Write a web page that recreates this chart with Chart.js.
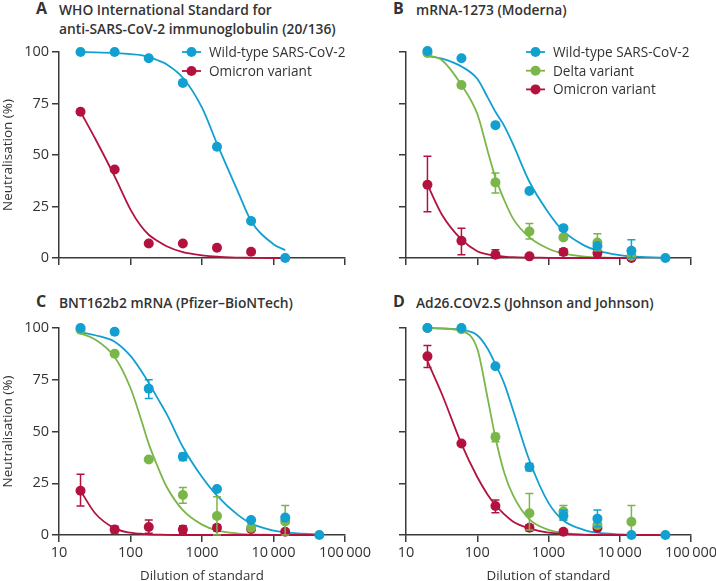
<!DOCTYPE html>
<html>
<head>
<meta charset="utf-8">
<script src="https://cdn.jsdelivr.net/npm/chart.js@4.4.1/dist/chart.umd.min.js"></script>
<style>
  html, body { margin: 0; padding: 0; background: #fff; }
  #wrap { position: relative; width: 716px; height: 581px; overflow: hidden; font-family: 'Open Sans', sans-serif; color: #333; }
  canvas { position: absolute; }
  .title { position: absolute; font-size: 13.8px; font-weight: 600; line-height: 19px; color: #333; white-space: nowrap; }
  .title b { position: absolute; left: -23px; top: -1px; font-size: 16px; font-weight: 700; }
</style>
</head>
<body>
<div id="wrap">
  <div class="title" style="left:59px; top:0px;"><b>A</b>WHO International Standard for<br>anti-SARS-CoV-2 immunoglobulin (20/136)</div>
  <div class="title" style="left:416px; top:0px;"><b>B</b>mRNA-1273 (Moderna)</div>
  <div class="title" style="left:59px; top:293px;"><b>C</b>BNT162b2 mRNA (Pfizer–BioNTech)</div>
  <div class="title" style="left:416px; top:293px;"><b>D</b>Ad26.COV2.S (Johnson and Johnson)</div>
  <canvas id="chartA" width="380" height="240" style="left:0px; top:30px;"></canvas>
  <canvas id="chartB" width="370" height="240" style="left:356px; top:30px;"></canvas>
  <canvas id="chartC" width="380" height="284" style="left:0px; top:306px;"></canvas>
  <canvas id="chartD" width="370" height="284" style="left:356px; top:306px;"></canvas>
</div>
<script>
// dilution steps of the measured points and x positions where the fitted curves were read
const dilutions = [20, 60, 180, 540, 1620, 4860, 14580, 43740];
const curveX = [20, 32, 60, 100, 140, 180, 240, 320, 540, 1000, 1620, 3200, 4860, 10000, 14580, 43740];

const xTickValues = [10, 100, 1000, 10000, 100000];
const xTickLabels = ['10', '100', '1000', '10\u2009000', '100\u2009000'];
const yTickValues = [0, 25, 50, 75, 100];

const seriesNames = ['Wild-type SARS-CoV-2', 'Delta variant', 'Omicron variant'];

// A - WHO standard
const whoWild = [100, 100, 97, 85, 54, 18, 0, null];
const whoOmicron = [71, 43, 7, 7, 5, 3, null, null];
const whoWildCurve = [100, 99.8, 99.6, 99, 98.5, 97.5, 96, 94, 87.5, 73, 55.5, 32, 18, 6.7, 3.8, null];
const whoOmicronCurve = [71, 58, 39.6, 23.5, 15.5, 11.3, 8.2, 5.7, 2.8, 1.3, 0.6, 0.2, 0.1, 0, 0, null];

// B - Moderna
const modWild = [100.5, 97, 64.5, 32.5, 14.5, 5.8, 3.5, 0];
const modWildLo = [null, null, null, null, null, null, 0, null];
const modWildHi = [null, null, null, null, null, null, 8.9, null];
const modDelta = [99.5, 84, 36.7, 12.9, 10, 7.5, 1, null];
const modDeltaLo = [null, null, 31.6, 9.2, null, 3.5, null, null];
const modDeltaHi = [null, null, 41.3, 16.7, null, 11.8, null, null];
const modOmicron = [35.6, 8.4, 1.6, 0.8, 2.9, 2.4, 0, null];
const modOmicronLo = [22.4, 1.6, 0, null, 1.3, 1, null, null];
const modOmicronHi = [49.4, 14.4, 4, null, 4.5, 3.8, null, null];
const modWildCurve = [98, 96.8, 93, 87, 78, 71, 64, 55, 37, 22, 13, 6, 3.6, 1.4, 0.8, 0.1];
const modDeltaCurve = [98.5, 96, 84, 70, 52, 39, 28, 19, 10, 4.5, 2.2, 0.6, 0.3, 0, 0, null];
const modOmicronCurve = [35.6, 21, 9, 3.3, 1.8, 1.1, 0.7, 0.4, 0.2, 0.1, 0, 0, 0, 0, 0, null];

// C - Pfizer-BioNTech
const pfzWild = [100, 98.2, 70.7, 37.8, 22.2, 7.2, 8.4, 0];
const pfzWildLo = [null, null, 66, 36, null, null, null, null];
const pfzWildHi = [null, null, 75, 39.5, null, null, null, null];
const pfzDelta = [99.2, 87.6, 36.5, 19.3, 9.2, 3.5, 6.5, null];
const pfzDeltaLo = [null, null, null, 15.3, 0, null, 0, null];
const pfzDeltaHi = [null, null, null, 23, 18.5, null, 14.2, null];
const pfzOmicron = [21.4, 2.7, 3.9, 2.6, 3.5, 2.9, 1.6, null];
const pfzOmicronLo = [14, 1, 0.8, 0.8, 2, null, null, null];
const pfzOmicronHi = [29.3, 4.2, 7.2, 4.5, 5, null, null, null];
const pfzWildCurve = [98, 96.5, 93.4, 86.5, 79.5, 73.5, 66, 58.5, 42.5, 28, 19, 9.6, 5.6, 2.1, 1.3, 0.2];
const pfzDeltaCurve = [97.4, 94.5, 86, 71, 56, 44, 33, 23.3, 12, 5, 2.2, 0.7, 0.3, 0.1, 0, 0];
const pfzOmicronCurve = [21.4, 10.5, 3.2, 1.1, 0.6, 0.3, 0.2, 0.1, 0, 0, 0, 0, 0, 0, 0, 0];

// D - Johnson and Johnson
const jnjWild = [100, 100, 81.5, 32.8, 9.3, 7.9, 0, 0];
const jnjWildLo = [null, null, null, 31, 7.3, 4, null, null];
const jnjWildHi = [null, null, null, 34.5, 12, 12.1, null, null];
const jnjDelta = [100, 99.4, 47.3, 10.5, 11.3, 4.8, 6.4, null];
const jnjDeltaLo = [null, null, 45, 2.4, 7.3, null, 0, null];
const jnjDeltaHi = [null, null, 49, 20, 14.2, null, 14.3, null];
const jnjOmicron = [86.3, 44.2, 14, 3.5, 1.6, 3.4, null, null];
const jnjOmicronLo = [80.9, null, 10.8, 2, null, null, null, null];
const jnjOmicronHi = [91.5, null, 16.9, 5, null, null, null, null];
const jnjWildCurve = [100, 99.8, 99.2, 96.5, 90, 82.5, 73, 60, 36, 15.5, 7, 2.4, 1.1, 0.3, 0.1, 0];
const jnjDeltaCurve = [100, 99.7, 98.6, 90, 66, 47, 30, 19, 7.5, 2.5, 1, 0.2, 0.1, 0, 0, 0];
const jnjOmicronCurve = [84, 68, 44, 28, 19.5, 14.5, 10, 6.4, 3.2, 1.1, 0.5, 0.1, 0, 0, 0, 0];

const BLUE = '#11a0cf';
const GREEN = '#7ab648';
const RED = '#b3123f';
const AXIS = '#3a3a3a';
const FONT = "'Open Sans', sans-serif";

function pts(xs, ys) {
    return xs.map((x, i) => ({ x: x, y: ys[i] })).filter(p => p.y !== null);
}

function curveSet(color, ys) {
    return {
        data: pts(curveX, ys),
        showLine: true,
        pointRadius: 0,
        borderColor: color,
        borderWidth: 1.8,
        cubicInterpolationMode: 'monotone',
        clip: false,
        order: 10
    };
}

function pointSet(label, color, ys, lo, hi, order, legend) {
    return {
        label: label,
        data: pts(dilutions, ys),
        showLine: false,
        pointRadius: 5,
        pointBorderWidth: 0,
        backgroundColor: color,
        borderColor: color,
        errLo: lo,
        errHi: hi,
        legend: legend,
        clip: false,
        order: order
    };
}

// vertical error bars with caps, drawn just under each point set
const errorBars = {
    id: 'errorBars',
    beforeDatasetDraw(chart, args) {
        const ds = chart.data.datasets[args.index];
        if (!ds.errLo) return;
        const xs = chart.scales.x, ys = chart.scales.y, c = chart.ctx;
        c.save();
        c.strokeStyle = ds.backgroundColor;
        c.lineWidth = 1.5;
        dilutions.forEach((d, i) => {
            if (ds.errLo[i] === null || ds.errHi[i] === null) return;
            const x = xs.getPixelForValue(d);
            const y1 = ys.getPixelForValue(ds.errLo[i]);
            const y2 = ys.getPixelForValue(ds.errHi[i]);
            c.beginPath();
            c.moveTo(x, y1); c.lineTo(x, y2);
            c.moveTo(x - 4, y1); c.lineTo(x + 4, y1);
            c.moveTo(x - 4, y2); c.lineTo(x + 4, y2);
            c.stroke();
        });
        c.restore();
    }
};

// legend drawn inside the plot area: line with dot, then label
const insideLegend = {
    id: 'insideLegend',
    afterDatasetsDraw(chart, args, opts) {
        if (opts.x === undefined) return;
        const c = chart.ctx;
        const items = chart.data.datasets.filter(d => d.legend);
        const x0 = chart.chartArea.left + opts.x;
        items.forEach((d, i) => {
            const y = chart.chartArea.top + i * opts.rowH;
            c.save();
            c.strokeStyle = d.backgroundColor;
            c.fillStyle = d.backgroundColor;
            c.lineWidth = 1.8;
            c.beginPath(); c.moveTo(x0, y); c.lineTo(x0 + 19, y); c.stroke();
            c.beginPath(); c.arc(x0 + 9.5, y, 5, 0, Math.PI * 2); c.fill();
            c.fillStyle = '#333';
            c.font = '13.6px ' + FONT;
            c.textBaseline = 'middle';
            c.fillText(d.label, x0 + 27, y + 1);
            c.restore();
        });
    }
};

function makeChart(id, datasets, p) {
    const ctx = document.getElementById(id);
    return new Chart(ctx, {
        type: 'scatter',
        data: { datasets: datasets },
        plugins: [errorBars, insideLegend],
        options: {
            responsive: false,
            animation: false,
            events: [],
            layout: { padding: { left: 0, top: 22, right: 35, bottom: 0 } },
            plugins: {
                legend: { display: false },
                tooltip: { enabled: false },
                insideLegend: p.legend || {}
            },
            scales: {
                x: {
                    type: 'logarithmic',
                    min: 10,
                    max: 100000,
                    afterBuildTicks: axis => { axis.ticks = xTickValues.map(v => ({ value: v })); },
                    afterFit: axis => { axis.height = p.xHeight; },
                    border: { display: true, color: AXIS, width: 1.5 },
                    grid: { drawOnChartArea: false, drawTicks: true, tickLength: 7, color: AXIS, lineWidth: 1.5 },
                    ticks: {
                        display: p.xLabels,
                        padding: 2,
                        color: '#333',
                        font: { family: FONT, size: 14.5 },
                        maxRotation: 0,
                        autoSkip: false,
                        callback: (v, i) => xTickLabels[i]
                    },
                    title: {
                        display: p.xLabels,
                        text: 'Dilution of standard',
                        color: '#333',
                        font: { family: FONT, size: 13.3 },
                        padding: { top: 0, bottom: 6 }
                    }
                },
                y: {
                    min: 0,
                    max: 100,
                    afterBuildTicks: axis => { axis.ticks = yTickValues.map(v => ({ value: v })); },
                    afterFit: axis => { axis.width = p.yWidth; },
                    border: { display: true, color: AXIS, width: 1.5 },
                    grid: { drawOnChartArea: false, drawTicks: true, tickLength: 7, color: AXIS, lineWidth: 1.5 },
                    ticks: {
                        display: p.yLabels,
                        padding: 3,
                        color: '#333',
                        font: { family: FONT, size: 14.5 }
                    },
                    title: {
                        display: p.yLabels,
                        text: 'Neutralisation (%)',
                        color: '#333',
                        font: { family: FONT, size: 13.5 },
                        padding: { top: 0, bottom: 0 }
                    }
                }
            }
        }
    });
}

makeChart('chartA', [
    curveSet(BLUE, whoWildCurve),
    curveSet(RED, whoOmicronCurve),
    pointSet(seriesNames[0], BLUE, whoWild, null, null, 1, true),
    pointSet(seriesNames[2], RED, whoOmicron, null, null, 3, true)
], { xLabels: false, yLabels: true, xHeight: 12, yWidth: 59, legend: { x: 123, rowH: 19 } });

makeChart('chartB', [
    curveSet(RED, modOmicronCurve),
    curveSet(GREEN, modDeltaCurve),
    curveSet(BLUE, modWildCurve),
    pointSet(seriesNames[0], BLUE, modWild, modWildLo, modWildHi, 1, true),
    pointSet(seriesNames[1], GREEN, modDelta, modDeltaLo, modDeltaHi, 2, true),
    pointSet(seriesNames[2], RED, modOmicron, modOmicronLo, modOmicronHi, 3, true)
], { xLabels: false, yLabels: false, xHeight: 12, yWidth: 50, legend: { x: 120, rowH: 18.7 } });

makeChart('chartC', [
    curveSet(RED, pfzOmicronCurve),
    curveSet(GREEN, pfzDeltaCurve),
    curveSet(BLUE, pfzWildCurve),
    pointSet(seriesNames[0], BLUE, pfzWild, pfzWildLo, pfzWildHi, 1, false),
    pointSet(seriesNames[1], GREEN, pfzDelta, pfzDeltaLo, pfzDeltaHi, 2, false),
    pointSet(seriesNames[2], RED, pfzOmicron, pfzOmicronLo, pfzOmicronHi, 3, false)
], { xLabels: true, yLabels: true, xHeight: 55, yWidth: 59 });

makeChart('chartD', [
    curveSet(RED, jnjOmicronCurve),
    curveSet(GREEN, jnjDeltaCurve),
    curveSet(BLUE, jnjWildCurve),
    pointSet(seriesNames[0], BLUE, jnjWild, jnjWildLo, jnjWildHi, 1, false),
    pointSet(seriesNames[1], GREEN, jnjDelta, jnjDeltaLo, jnjDeltaHi, 2, false),
    pointSet(seriesNames[2], RED, jnjOmicron, jnjOmicronLo, jnjOmicronHi, 3, false)
], { xLabels: true, yLabels: false, xHeight: 55, yWidth: 50 });
</script>
</body>
</html>
